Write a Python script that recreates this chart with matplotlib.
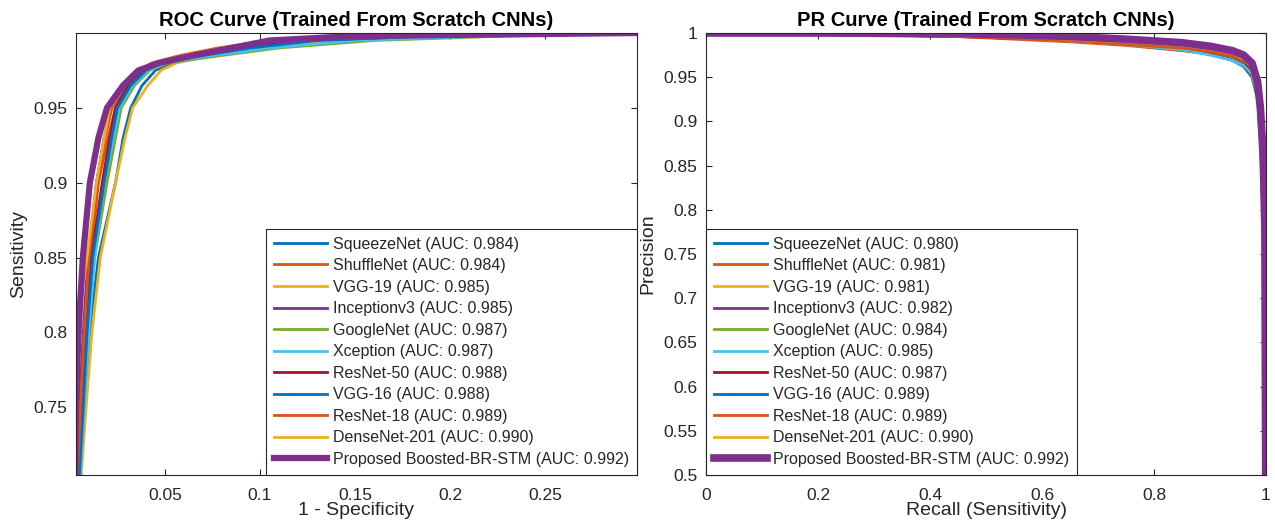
import numpy as np
import matplotlib
matplotlib.use("Agg")
import matplotlib.pyplot as plt
from matplotlib.ticker import FormatStrFormatter

plt.rcParams['font.family'] = ['Liberation Sans', 'DejaVu Sans']

############################################
# data
models = ['SqueezeNet', 'ShuffleNet', 'VGG-19', 'Inceptionv3', 'GoogleNet', 'Xception',
          'ResNet-50', 'VGG-16', 'ResNet-18', 'DenseNet-201', 'Proposed Boosted-BR-STM']
roc_auc = [0.984, 0.984, 0.985, 0.985, 0.987, 0.987, 0.988, 0.988, 0.989, 0.990, 0.992]
pr_auc = [0.980, 0.981, 0.981, 0.982, 0.984, 0.985, 0.987, 0.989, 0.989, 0.990, 0.992]

# ROC: sensitivity levels and the 1-specificity where each model reaches them
roc_tpr = [0.705, 0.75, 0.80, 0.85, 0.90, 0.93, 0.95, 0.965, 0.975, 0.98, 0.985, 0.99, 0.995, 0.998, 1.0]
roc_fpr_squeezenet = [0.0050, 0.0075, 0.0105, 0.0150, 0.0240, 0.0280, 0.0320, 0.0380, 0.0450, 0.0540, 0.0750, 0.1000, 0.1350, 0.1900, 0.3000]
roc_fpr_shufflenet = [0.0045, 0.0060, 0.0085, 0.0110, 0.0150, 0.0200, 0.0240, 0.0310, 0.0390, 0.0450, 0.0600, 0.0800, 0.1100, 0.1700, 0.3000]
roc_fpr_vgg19 = [0.0060, 0.0085, 0.0116, 0.0160, 0.0240, 0.0290, 0.0330, 0.0410, 0.0480, 0.0560, 0.0750, 0.1000, 0.1400, 0.2000, 0.3000]
roc_fpr_inception = [0.0035, 0.0050, 0.0070, 0.0095, 0.0140, 0.0180, 0.0220, 0.0300, 0.0380, 0.0460, 0.0650, 0.0900, 0.1200, 0.1800, 0.3000]
roc_fpr_googlenet = [0.0050, 0.0070, 0.0095, 0.0130, 0.0195, 0.0240, 0.0270, 0.0340, 0.0420, 0.0520, 0.0800, 0.1100, 0.1600, 0.2300, 0.3000]
roc_fpr_xception = [0.0055, 0.0075, 0.0100, 0.0130, 0.0180, 0.0230, 0.0260, 0.0330, 0.0410, 0.0500, 0.0750, 0.1050, 0.1500, 0.2200, 0.3000]
roc_fpr_resnet50 = [0.0045, 0.0060, 0.0085, 0.0115, 0.0170, 0.0210, 0.0240, 0.0310, 0.0390, 0.0460, 0.0650, 0.0900, 0.1250, 0.1900, 0.3000]
roc_fpr_vgg16 = [0.0050, 0.0070, 0.0090, 0.0120, 0.0180, 0.0220, 0.0250, 0.0320, 0.0400, 0.0480, 0.0700, 0.0950, 0.1300, 0.1900, 0.3000]
roc_fpr_resnet18 = [0.0040, 0.0055, 0.0075, 0.0100, 0.0140, 0.0185, 0.0220, 0.0290, 0.0370, 0.0430, 0.0580, 0.0780, 0.1050, 0.1600, 0.3000]
roc_fpr_densenet = [0.0020, 0.0025, 0.0032, 0.0090, 0.0140, 0.0180, 0.0210, 0.0290, 0.0370, 0.0440, 0.0600, 0.0800, 0.1100, 0.1700, 0.3000]
roc_fpr_proposed = [0.0030, 0.0031, 0.0045, 0.0068, 0.0105, 0.0150, 0.0195, 0.0280, 0.0360, 0.0470, 0.0650, 0.0850, 0.1050, 0.1500, 0.3000]

# PR: recall levels and each model's precision there
pr_recall = [0.0, 0.3, 0.45, 0.55, 0.65, 0.75, 0.85, 0.90, 0.94, 0.96, 0.975, 0.985, 0.99, 0.995, 0.998, 0.9995]
pr_prec_squeezenet = [1.0, 0.999, 0.997, 0.994, 0.991, 0.987, 0.981, 0.976, 0.969, 0.962, 0.950, 0.925, 0.88, 0.78, 0.65, 0.5]
pr_prec_shufflenet = [1.0, 0.998, 0.996, 0.993, 0.990, 0.986, 0.980, 0.976, 0.970, 0.964, 0.953, 0.930, 0.89, 0.80, 0.66, 0.5]
pr_prec_vgg19 = [1.0, 0.999, 0.997, 0.994, 0.991, 0.988, 0.982, 0.977, 0.971, 0.965, 0.954, 0.930, 0.89, 0.79, 0.65, 0.5]
pr_prec_inception = [1.0, 0.999, 0.997, 0.995, 0.992, 0.988, 0.983, 0.978, 0.972, 0.966, 0.956, 0.932, 0.90, 0.80, 0.67, 0.5]
pr_prec_googlenet = [1.0, 0.999, 0.998, 0.996, 0.993, 0.989, 0.984, 0.979, 0.973, 0.967, 0.957, 0.935, 0.90, 0.81, 0.68, 0.5]
pr_prec_xception = [1.0, 0.999, 0.997, 0.995, 0.991, 0.987, 0.981, 0.975, 0.969, 0.963, 0.955, 0.935, 0.90, 0.82, 0.69, 0.5]
pr_prec_resnet50 = [1.0, 0.997, 0.996, 0.994, 0.992, 0.988, 0.984, 0.979, 0.974, 0.968, 0.958, 0.938, 0.91, 0.83, 0.70, 0.5]
pr_prec_vgg16 = [1.0, 0.999, 0.998, 0.996, 0.993, 0.990, 0.985, 0.980, 0.975, 0.969, 0.960, 0.940, 0.91, 0.84, 0.71, 0.5]
pr_prec_resnet18 = [1.0, 0.998, 0.996, 0.994, 0.991, 0.987, 0.983, 0.979, 0.974, 0.969, 0.961, 0.942, 0.915, 0.85, 0.72, 0.5]
pr_prec_densenet = [1.0, 0.999, 0.998, 0.996, 0.993, 0.990, 0.986, 0.982, 0.977, 0.971, 0.962, 0.942, 0.915, 0.85, 0.72, 0.5]
pr_prec_proposed = [1.0, 1.0, 0.9995, 0.998, 0.996, 0.993, 0.989, 0.985, 0.980, 0.975, 0.966, 0.945, 0.915, 0.86, 0.78, 0.5]

roc_fpr = [roc_fpr_squeezenet, roc_fpr_shufflenet, roc_fpr_vgg19, roc_fpr_inception, roc_fpr_googlenet,
           roc_fpr_xception, roc_fpr_resnet50, roc_fpr_vgg16, roc_fpr_resnet18, roc_fpr_densenet,
           roc_fpr_proposed]
pr_prec = [pr_prec_squeezenet, pr_prec_shufflenet, pr_prec_vgg19, pr_prec_inception, pr_prec_googlenet,
           pr_prec_xception, pr_prec_resnet50, pr_prec_vgg16, pr_prec_resnet18, pr_prec_densenet,
           pr_prec_proposed]

# matlab default colour order
colors = ['#0072BD', '#D95319', '#EDB120', '#7E2F8E', '#77AC30', '#4DBEEE',
          '#A2142F', '#0072BD', '#D95319', '#EDB120', '#7E2F8E']

#############################################
## Plotting
W, H = 1275, 521
fig = plt.figure(figsize=(W / 100, H / 100), dpi=100)
ax1 = fig.add_axes([76 / W, 1 - 475 / H, 561 / W, 442 / H])
ax2 = fig.add_axes([706 / W, 1 - 475 / H, 560 / W, 442 / H])

dark = '#262626'

for i, name in enumerate(models):
    lw = 4.5 if i == len(models) - 1 else 2.0
    ax1.plot(roc_fpr[i], roc_tpr, color=colors[i], lw=lw,
             label='%s (AUC: %.3f)' % (name, roc_auc[i]))
    lw = 5.5 if i == len(models) - 1 else 2.0
    ax2.plot(pr_recall, pr_prec[i], color=colors[i], lw=lw,
             label='%s (AUC: %.3f)' % (name, pr_auc[i]))

# roc axes
ax1.set_xlim(0.0032, 0.2984)
ax1.set_ylim(0.7047, 1.0)
ax1.set_xticks([0.05, 0.1, 0.15, 0.2, 0.25])
ax1.set_yticks([0.75, 0.8, 0.85, 0.9, 0.95])
ax1.set_title('ROC Curve (Trained From Scratch CNNs)', fontsize=14.5, fontweight='bold', pad=5)
ax1.set_xlabel('1 - Specificity', fontsize=14)
ax1.set_ylabel('Sensitivity', fontsize=14)

# pr axes
ax2.set_xlim(0, 1)
ax2.set_ylim(0.5, 1.0)
ax2.set_xticks(np.arange(0, 1.01, 0.2))
ax2.set_yticks(np.arange(0.5, 1.001, 0.05))
ax2.set_title('PR Curve (Trained From Scratch CNNs)', fontsize=14.5, fontweight='bold', pad=5)
ax2.set_xlabel('Recall (Sensitivity)', fontsize=14)
ax2.set_ylabel('Precision', fontsize=14)

for ax in (ax1, ax2):
    ax.xaxis.set_major_formatter(FormatStrFormatter('%g'))
    ax.yaxis.set_major_formatter(FormatStrFormatter('%g'))
    ax.tick_params(direction='in', length=4, width=0.8, colors=dark, labelsize=12.5,
                   top=True, right=True)
    ax.tick_params(axis='x', pad=9)
    ax.tick_params(axis='y', pad=6)
    for s in ax.spines.values():
        s.set_color(dark)
        s.set_linewidth(0.8)
    ax.xaxis.set_label_coords(0.5, -0.062)
    ax.yaxis.set_label_coords(-0.088, 0.5)
    ax.xaxis.label.set_color(dark)
    ax.yaxis.label.set_color(dark)

leg_kw = dict(fontsize=11.5, frameon=True, fancybox=False, borderaxespad=0,
              handlelength=3.3, handletextpad=0.4, labelspacing=0.41, borderpad=0.5,
              edgecolor=dark)
leg1 = ax1.legend(loc='lower right', **leg_kw)
leg2 = ax2.legend(loc='lower left', **leg_kw)
for leg in (leg1, leg2):
    leg.get_frame().set_linewidth(0.8)
    leg.get_frame().set_alpha(1)
    for t in leg.get_texts():
        t.set_color(dark)

fig.savefig('out.png', dpi=100)
